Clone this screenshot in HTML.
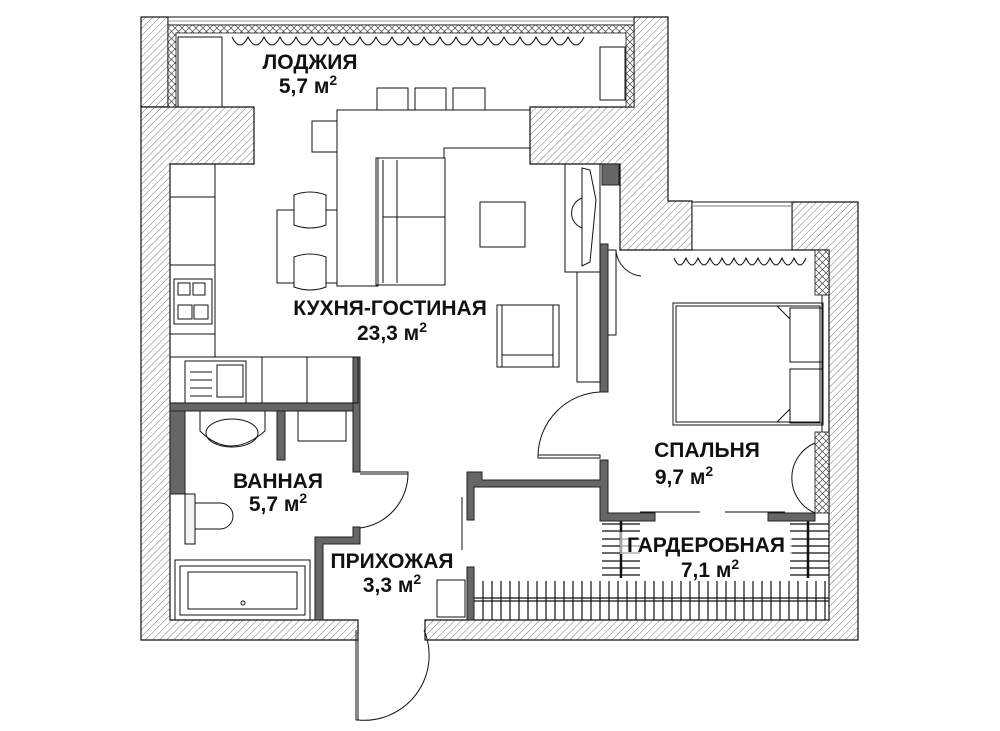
<!DOCTYPE html>
<html><head><meta charset="utf-8"><style>
html,body{margin:0;padding:0;background:#fff}
svg{display:block}
text{font-family:"Liberation Sans",Arial,sans-serif;font-weight:bold;fill:#111;font-size:21px}
</style></head><body>
<svg width="1000" height="731" viewBox="0 0 1000 731" xmlns="http://www.w3.org/2000/svg">
<defs>
<pattern id="h" width="5" height="5" patternUnits="userSpaceOnUse" patternTransform="rotate(45)">
<rect width="5" height="5" fill="#fff"/><line x1="0" y1="0" x2="0" y2="5" stroke="#555" stroke-width="0.8"/>
</pattern>
<pattern id="x" width="7" height="7" patternUnits="userSpaceOnUse">
<rect width="7" height="7" fill="#fff"/><path d="M0 0L7 7M7 0L0 7" stroke="#444" stroke-width="0.7"/>
</pattern>
</defs>
<g stroke="#111" stroke-width="1.2" fill="url(#h)">
<rect x="141" y="17" width="27" height="90"/>
<polygon points="141,107 254,107 254,164 170,164 170,620 358,620 358,640 141,640"/>
<polygon points="634,17 668,17 668,201 692,201 692,250 620,250 620,164 530,164 530,107 634,107"/>
<polygon points="792,202 858,202 858,640 425,640 425,620 829,620 829,250 792,250"/>
</g>
<rect x="168" y="17" width="466" height="8" fill="#fff" stroke="#111" stroke-width="1"/>
<line x1="168" y1="21" x2="634" y2="21" stroke="#777" stroke-width="0.8"/>
<path d="M168 25H634V107H626V33H176V107H168Z" fill="url(#x)" stroke="#111" stroke-width="0.8"/>
<rect x="692" y="202" width="100" height="48" fill="#fff" stroke="#111" stroke-width="1"/>
<line x1="692" y1="206" x2="792" y2="206" stroke="#777"/>
<rect x="815" y="250" width="14" height="45" fill="url(#x)" stroke="#111" stroke-width="0.8"/>
<rect x="815" y="432" width="14" height="81" fill="url(#x)" stroke="#111" stroke-width="0.8"/>
<line x1="822" y1="295" x2="822" y2="432" stroke="#111"/>
<g fill="#666" stroke="#222" stroke-width="1">
<rect x="170" y="403" width="190" height="8"/>
<rect x="353" y="357" width="7" height="115"/>
<rect x="170" y="411" width="15" height="83"/>
<rect x="277" y="411" width="8" height="49"/>
<polygon points="353,527 360,527 360,544 323,544 323,620 315,620 315,537 353,537"/>
<rect x="602" y="164" width="17" height="21"/>
<rect x="600" y="244" width="8" height="148"/>
<polygon points="600,460 608,460 608,513 655,513 655,521 600,521 600,487 474,487 474,520 467,520 467,472 482,472 482,480 600,480"/>
<rect x="768" y="513" width="47" height="8"/>
<rect x="467" y="567" width="7" height="53"/>
</g>
<g fill="none" stroke="#111" stroke-width="1">
<path d="M232 37 q8 16 16 0 q8 16 16 0 q8 16 16 0 q8 16 16 0 q8 16 16 0 q8 16 16 0 q8 16 16 0 q8 16 16 0 q8 16 16 0 q8 16 16 0 q8 16 16 0 q8 16 16 0 q8 16 16 0 q8 16 16 0 q8 16 16 0 q8 16 16 0 q8 16 16 0 q8 16 16 0 q8 16 16 0 q8 16 16 0 q8 16 16 0 q8 16 16 0"/>
<path d="M674 258 q6 14 12 0 q6 14 12 0 q6 14 12 0 q6 14 12 0 q6 14 12 0 q6 14 12 0 q6 14 12 0 q6 14 12 0 q6 14 12 0 q6 14 12 0 q6 14 12 0"/>
<rect x="178" y="37" width="44" height="70"/>
<rect x="600" y="47" width="25" height="53"/>
<rect x="377" y="88" width="31" height="22"/><rect x="415" y="88" width="31" height="22"/><rect x="453" y="88" width="32" height="22"/>
<rect x="312" y="121" width="25" height="31"/>
<polygon points="337,110 530,110 530,148 444,148 444,158 378,158 378,286 337,286"/>
<rect x="376" y="158" width="69" height="127"/>
<line x1="383" y1="160" x2="383" y2="283"/><line x1="397" y1="160" x2="397" y2="283"/>
<line x1="383" y1="217" x2="445" y2="217"/>
<rect x="480" y="202" width="45" height="45"/>
<rect x="277" y="210" width="60" height="73"/>
<path d="M294 195 q16 -6 32 0 v30 q-16 6 -32 0z" fill="#fff"/>
<path d="M294 257 q16 -6 32 0 v30 q-16 6 -32 0z" fill="#fff"/>
<rect x="170" y="164" width="45" height="193"/>
<line x1="170" y1="197" x2="215" y2="197"/><line x1="170" y1="265" x2="215" y2="265"/><line x1="170" y1="334" x2="215" y2="334"/>
<rect x="174" y="279" width="38" height="45"/>
<rect x="178" y="283" width="12" height="12"/><rect x="193" y="283" width="12" height="12"/>
<rect x="178" y="305" width="14" height="14"/><rect x="194" y="305" width="14" height="14"/>
<rect x="170" y="357" width="188" height="46"/>
<line x1="262" y1="357" x2="262" y2="403"/><line x1="307" y1="357" x2="307" y2="403"/>
<rect x="185" y="361" width="61" height="42"/><rect x="217" y="365" width="26" height="32"/>
<line x1="190" y1="372" x2="212" y2="372"/><line x1="190" y1="380" x2="212" y2="380"/><line x1="190" y1="388" x2="212" y2="388"/><line x1="190" y1="396" x2="212" y2="396"/>
<rect x="565" y="164" width="35" height="108"/>
<rect x="577" y="272" width="23" height="110"/>
<path d="M582 168 L590 170 L596 200 L590 262 L582 266Z" fill="#fff"/>
<path d="M582 198 a16 16 0 0 0 0 30"/>
<rect x="497" y="305" width="62" height="62"/><rect x="502" y="305" width="51" height="62"/><line x1="502" y1="355" x2="553" y2="355"/>
<rect x="298" y="411" width="48" height="30"/>
<path d="M200 411 v20 q30 30 65 0 v-20"/>
<ellipse cx="232" cy="433" rx="26" ry="14"/>
<rect x="185" y="494" width="10" height="50" fill="#f4f4f4"/>
<path d="M195 503 h25 a13 13 0 0 1 0 26 h-25"/>
<rect x="175" y="560" width="135" height="60"/>
<rect x="180" y="566" width="125" height="49"/>
<rect x="188" y="572" width="109" height="37"/>
<circle cx="243" cy="603" r="2"/>
<rect x="437" y="580" width="28" height="37"/>
<line x1="462" y1="497" x2="462" y2="550"/>
<path d="M360 472 h48 v2 h-48"/><path d="M408 473 a55 55 0 0 1 -48 55"/>
<path d="M608 250 h8 v85 h-8"/><path d="M616 251 a28 28 0 0 0 25 25" />
<path d="M538 455 h62 v3 h-62z"/><path d="M538 455 a65 65 0 0 1 62 -63"/>
<path d="M358 630 v90 h-2 v-90"/><path d="M358 720 a65 65 0 0 0 66 -90"/>
<rect x="673" y="303" width="150" height="122"/>
<rect x="676" y="306" width="144" height="116"/>
<rect x="790" y="308" width="32" height="54"/><rect x="790" y="369" width="32" height="54"/>
<path d="M777 306 l13 13 M777 422 l13 -13"/>
<path d="M815 443 a38 38 0 0 0 0 70"/>
<line x1="640" y1="512" x2="700" y2="512"/><line x1="725" y1="512" x2="785" y2="512"/>
</g>
<g stroke="#111" stroke-width="1.2">
<path d="M602 524h38M602 531h38M602 539h38M602 546h38M602 553h38M602 561h38M602 568h38M602 575h38"/>
<path d="M790 524h39M790 531h39M790 539h39M790 546h39M790 553h39M790 561h39M790 568h39M790 575h39"/>
<line x1="621" y1="521" x2="621" y2="578" stroke-width="2.5"/><line x1="808" y1="521" x2="808" y2="578" stroke-width="2.5"/>
<path d="M483 581v39M492 581v39M501 581v39M510 581v39M519 581v39M528 581v39M537 581v39M546 581v39M555 581v39M564 581v39M573 581v39M582 581v39M591 581v39M600 581v39M609 581v39M618 581v39M627 581v39M636 581v39M645 581v39M654 581v39M663 581v39M672 581v39M681 581v39M690 581v39M699 581v39M708 581v39M717 581v39M726 581v39M735 581v39M744 581v39M753 581v39M762 581v39M771 581v39M780 581v39M789 581v39M798 581v39M807 581v39M816 581v39M825 581v39"/>
<line x1="474" y1="598" x2="829" y2="598"/><line x1="474" y1="601" x2="829" y2="601"/>
</g>
<text x="310" y="69" text-anchor="middle">ЛОДЖИЯ</text>
<text x="308" y="93" text-anchor="middle">5,7 м<tspan dy="-8" font-size="14">2</tspan></text>
<text x="390" y="315" text-anchor="middle">КУХНЯ-ГОСТИНАЯ</text>
<text x="392" y="340" text-anchor="middle">23,3 м<tspan dy="-8" font-size="14">2</tspan></text>
<text x="278" y="488" text-anchor="middle">ВАННАЯ</text>
<text x="278" y="511" text-anchor="middle">5,7 м<tspan dy="-8" font-size="14">2</tspan></text>
<text x="392" y="568" text-anchor="middle">ПРИХОЖАЯ</text>
<text x="392" y="592" text-anchor="middle">3,3 м<tspan dy="-8" font-size="14">2</tspan></text>
<text x="707" y="457" text-anchor="middle">СПАЛЬНЯ</text>
<text x="684" y="484" text-anchor="middle">9,7 м<tspan dy="-8" font-size="14">2</tspan></text>
<rect x="620" y="532" width="172" height="22" fill="#fff" opacity="0.6"/>
<text x="706" y="552" text-anchor="middle">ГАРДЕРОБНАЯ</text>
<text x="710" y="577" text-anchor="middle">7,1 м<tspan dy="-8" font-size="14">2</tspan></text>
</svg>
</body></html>
